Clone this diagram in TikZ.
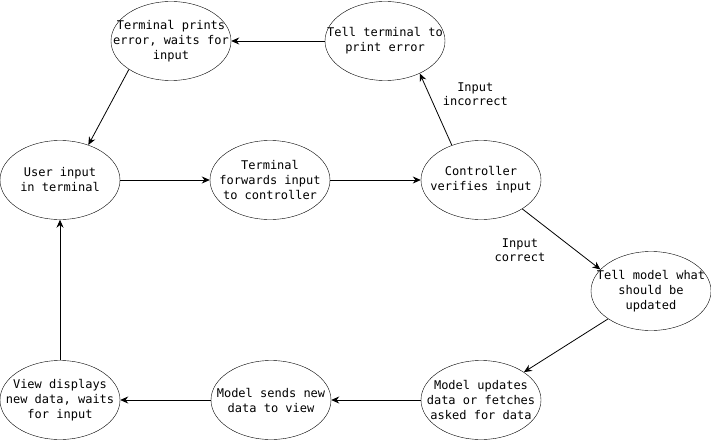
\documentclass[tikz,border=0pt]{standalone}
\usepackage{fontspec}
\setmainfont{DejaVu Sans Mono}
\usetikzlibrary{shapes.geometric,arrows.meta}
\begin{document}
\begin{tikzpicture}[x=1pt, y=-1pt,
    state/.style={draw, ellipse, minimum width=120pt, minimum height=79pt, inner xsep=-30pt, inner ysep=0pt, align=center, font=\fontsize{12}{15}\selectfont},
    flow/.style={-{Stealth[length=8pt, width=7pt]}, line width=0.8pt},
    note/.style={align=center, font=\fontsize{12}{14}\selectfont}]
  \useasboundingbox (0, 0) rectangle (711, 441);

  % Error path
  \node [state] (tpe) at (171, 41) {Terminal prints\\error, waits for\\input};
  \node [state] (tte) at (385, 41) {Tell terminal to\\print error};

  % Input path
  \node [state] (uit) at (60, 180) {User input\\in terminal};
  \node [state] (tfi) at (270, 180) {Terminal\\forwards input\\to controller};
  \node [state] (cvi) at (481, 180) {Controller\\verifies input};

  % Update path
  \node [state] (tmw) at (651, 291) {Tell model what\\should be\\updated};
  \node [state] (mud) at (481, 400) {Model updates\\data or fetches\\asked for data};
  \node [state] (msn) at (271, 400) {Model sends new\\data to view};
  \node [state] (vdn) at (60, 400) {View displays\\new data, waits\\for input};

  % Arrows
  \draw [flow] (uit) -- (tfi);
  \draw [flow] (tfi) -- (cvi);
  \draw [flow] (cvi.130) -- (tte.-43) node [note, pos=0.71, right=10pt] {Input\\incorrect};
  \draw [flow] (tte) -- (tpe);
  \draw [flow] (tpe.214) -- (uit.51);
  \draw [flow] (cvi.-35) -- (tmw.157) node [note, pos=0.38, below left=3pt] {Input\\correct};
  \draw [flow] (tmw.213) -- (mud.33);
  \draw [flow] (mud) -- (msn);
  \draw [flow] (msn) -- (vdn);
  \draw [flow] (vdn) -- (uit);
\end{tikzpicture}
\end{document}
